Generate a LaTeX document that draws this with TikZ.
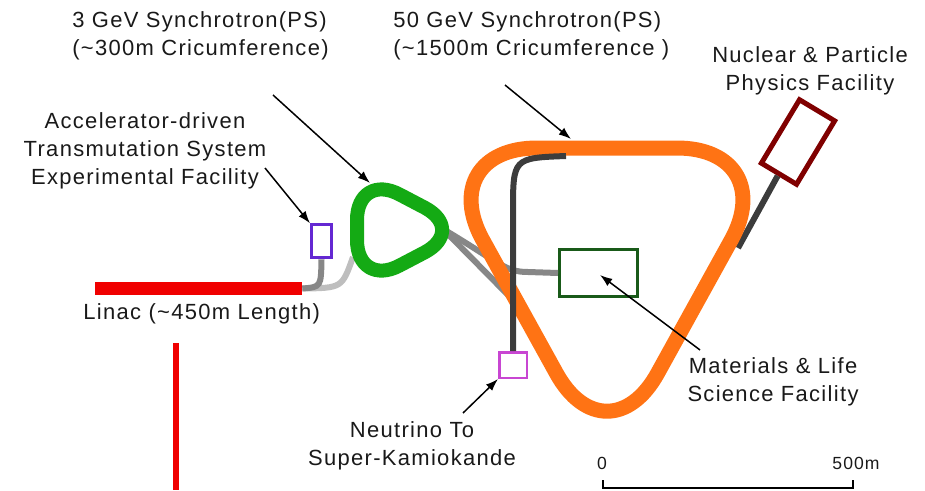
\documentclass[tikz,border=0pt]{standalone}
\usepackage{fontspec}
\setmainfont{Liberation Sans}[LetterSpace=6]
\usetikzlibrary{arrows.meta}
\definecolor{orng}{RGB}{255,115,20}
\definecolor{grnring}{RGB}{20,170,20}
\definecolor{dkgreen}{RGB}{25,90,25}
\definecolor{dkred}{RGB}{128,0,0}
\definecolor{violetbox}{RGB}{100,40,210}
\definecolor{magbox}{RGB}{200,70,210}
\definecolor{linacred}{RGB}{240,0,0}
\definecolor{midgray}{RGB}{135,135,135}
\definecolor{ltgray}{RGB}{190,190,190}
\definecolor{dkline}{RGB}{60,60,60}
\definecolor{txt}{RGB}{25,25,25}
\begin{document}
\begin{tikzpicture}[x=0.02cm,y=-0.02cm,
  lbl/.style={font=\fontsize{12.5}{15.9}\selectfont, align=center, inner sep=0pt, text=txt},
  scl/.style={font=\fontsize{10}{12}\selectfont, inner sep=0pt, text=txt},
  ptr/.style={line width=0.03cm, draw=black, -{Latex[length=7pt,width=5pt]}},
  beam/.style={line width=0.12cm},
  fac/.style={draw, fill=white, inner sep=0pt},
  ring/.style={line join=round},
]
\useasboundingbox (0,0) rectangle (925,490);

% linac and red line
\node[fill=linacred, minimum width=4.14cm, minimum height=0.26cm, inner sep=0pt] (linac) at (198.5,288.5) {};
\coordinate (rv1) at (176,343);
\coordinate (rv2) at (176,490);
\draw[linacred, line width=0.12cm] (rv1) -- (rv2);

% facility boxes
\node[fac, draw=violetbox, line width=0.06cm, minimum width=0.4cm, minimum height=0.66cm] (ads) at (321.5,241.3) {};
\node[fac, draw=dkgreen, line width=0.06cm, minimum width=1.56cm, minimum height=0.94cm] (mls) at (598.5,273) {};
\node[fac, draw=magbox, line width=0.05cm, minimum width=0.55cm, minimum height=0.51cm] (nu) at (513,365) {};
\node[fac, draw=dkred, line width=0.1cm, minimum width=0.82cm, minimum height=1.48cm, rotate=-31] (nuc) at (798,142) {};

% named points
\coordinate (gL) at (353,257);
\coordinate (gR) at (443,229);
\coordinate (jn) at (513,300);
\coordinate (dk1) at (566,156);
\coordinate (oR) at (738,248);

% transfer lines (under rings)
\draw[beam, ltgray] (linac.east) .. controls (342,288) .. (gL);
\draw[beam, midgray] (linac.east) .. controls (321,287) .. (ads.south);
\draw[beam, midgray] (gR) .. controls (500,263) and (505,272) .. (528,272) -- (mls.west);
\draw[beam, midgray] (gR) -- (jn);
\draw[beam, dkline] (oR) -- (nuc.south);

% 3 GeV ring
\draw[ring, grnring, line width=0.28cm]
  (357,230) -- (357,220) .. controls (357,193.5) and (376,182) .. (399.4,194.4)
  -- (424.6,207.6) .. controls (448,220) and (448,240) .. (424.6,252.4)
  -- (399.4,265.6) .. controls (376,278) and (357,266.5) .. (357,240) -- cycle;
% 50 GeV ring
\draw[ring, orng, line width=0.3cm]
  (537,148) -- (677,148) .. controls (735,148) and (759.3,189.1) .. (731.3,239.9)
  -- (657.7,373.1) .. controls (629.7,423.9) and (584.3,423.9) .. (556.3,373.1)
  -- (482.7,239.9) .. controls (454.7,189.1) and (479,148) .. (537,148) -- cycle;

% neutrino line
\draw[beam, dkline] (dk1) .. controls (513,158) .. (513,212) -- (nu.north);

% labels
\node[lbl, align=left, anchor=west] (l3) at (72,36) {3 GeV Synchrotron(PS)\\(\textasciitilde300m Cricumference)};
\node[lbl, align=left, anchor=west] (l50) at (393,36) {50 GeV Synchrotron(PS)\\(\textasciitilde1500m Cricumference )};
\node[lbl] (lads) at (145,151) {Accelerator-driven\\Transmutation System\\Experimental Facility};
\node[lbl] (lnuc) at (810,71) {Nuclear \& Particle\\Physics Facility};
\node[lbl, anchor=west] (llin) at (83,314) {Linac (\textasciitilde450m Length)};
\node[lbl] (lmls) at (773,382) {Materials \& Life\\Science Facility};
\node[lbl] (lnu) at (412,446) {Neutrino To\\Super-Kamiokande};

% pointer arrows
\coordinate (a3s) at (273,95);
\coordinate (a3e) at (370,183);
\coordinate (a50s) at (505,85);
\coordinate (a50e) at (571,139);
\coordinate (aads) at (265,168);
\coordinate (amls) at (700,350);
\coordinate (amlse) at (600,275);
\coordinate (anu) at (463,413);
\draw[ptr] (a3s) -- (a3e);
\draw[ptr] (a50s) -- (a50e);
\draw[ptr] (aads) -- (ads.north west);
\draw[ptr] (amls) -- (amlse);
\draw[ptr] (anu) -- (nu.south west);

% scale bar
\node[scl] (s0) at (602,463) {0};
\node[scl] (s500) at (856,463) {500m};
\coordinate (b1) at (603,480);
\coordinate (b2) at (603,488);
\coordinate (b3) at (853,488);
\coordinate (b4) at (853,480);
\draw[line width=0.03cm] (b1) -- (b2) -- (b3) -- (b4);
\end{tikzpicture}
\end{document}
